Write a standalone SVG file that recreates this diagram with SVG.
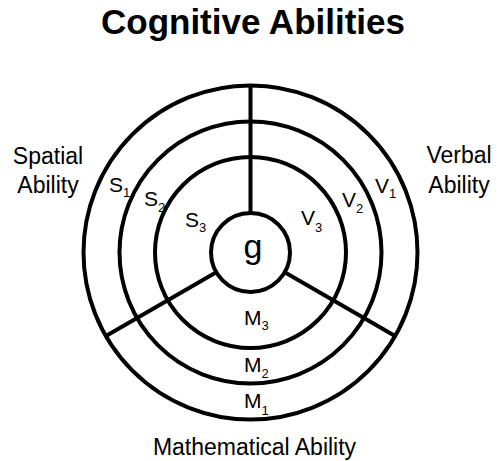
<svg xmlns="http://www.w3.org/2000/svg" width="501" height="461" viewBox="0 0 501 461">
<style>
.ring{fill:none;stroke:#000;stroke-width:4}
.sp{stroke:#000;stroke-width:4;fill:none}
text{font-family:"Liberation Sans",Arial,sans-serif;fill:#000}
.t{font-size:35px;font-weight:bold}
.ab{font-size:23px}
.lb{font-size:21px}
.sub{font-size:13px}
</style>
<rect width="501" height="461" fill="#fff"/>
<text class="t" x="253" y="34" text-anchor="middle">Cognitive Abilities</text>
<g id="rings">
<circle class="ring" cx="250.5" cy="252.5" r="167"/>
<circle class="ring" cx="250.5" cy="252.5" r="131"/>
<circle class="ring" cx="250.5" cy="252.5" r="95.5"/>
</g>
<g id="connectors">
<line class="sp" x1="250.5" y1="85.5" x2="250.5" y2="213"/>
<line class="sp" x1="216.3" y1="272.2" x2="105.9" y2="336"/>
<line class="sp" x1="284.7" y1="272.2" x2="395.1" y2="336"/>
</g>
<g id="g">
<circle class="ring" cx="250.5" cy="252.5" r="39.5"/>
<text x="253" y="258" text-anchor="middle" style="font-size:34px">g</text>
</g>
<g id="spatial">
<text class="ab" x="48" y="164" text-anchor="middle">Spatial</text>
<text class="ab" x="48" y="193" text-anchor="middle">Ability</text>
<text class="lb" x="109" y="192">S<tspan class="sub" dy="5">1</tspan></text>
<text class="lb" x="144" y="206">S<tspan class="sub" dy="6">2</tspan></text>
<text class="lb" x="185" y="227">S<tspan class="sub" dy="5">3</tspan></text>
</g>
<g id="verbal">
<text class="ab" x="459" y="163" text-anchor="middle">Verbal</text>
<text class="ab" x="459" y="193" text-anchor="middle">Ability</text>
<text class="lb" x="375" y="193">V<tspan class="sub" dy="5">1</tspan></text>
<text class="lb" x="342" y="207">V<tspan class="sub" dy="6">2</tspan></text>
<text class="lb" x="301" y="225">V<tspan class="sub" dy="7">3</tspan></text>
</g>
<g id="math">
<text class="ab" x="254.5" y="455" text-anchor="middle">Mathematical Ability</text>
<text class="lb" x="244" y="325">M<tspan class="sub" dy="5">3</tspan></text>
<text class="lb" x="244" y="372">M<tspan class="sub" dy="6">2</tspan></text>
<text class="lb" x="244" y="408">M<tspan class="sub" dy="7">1</tspan></text>
</g>
</svg>
